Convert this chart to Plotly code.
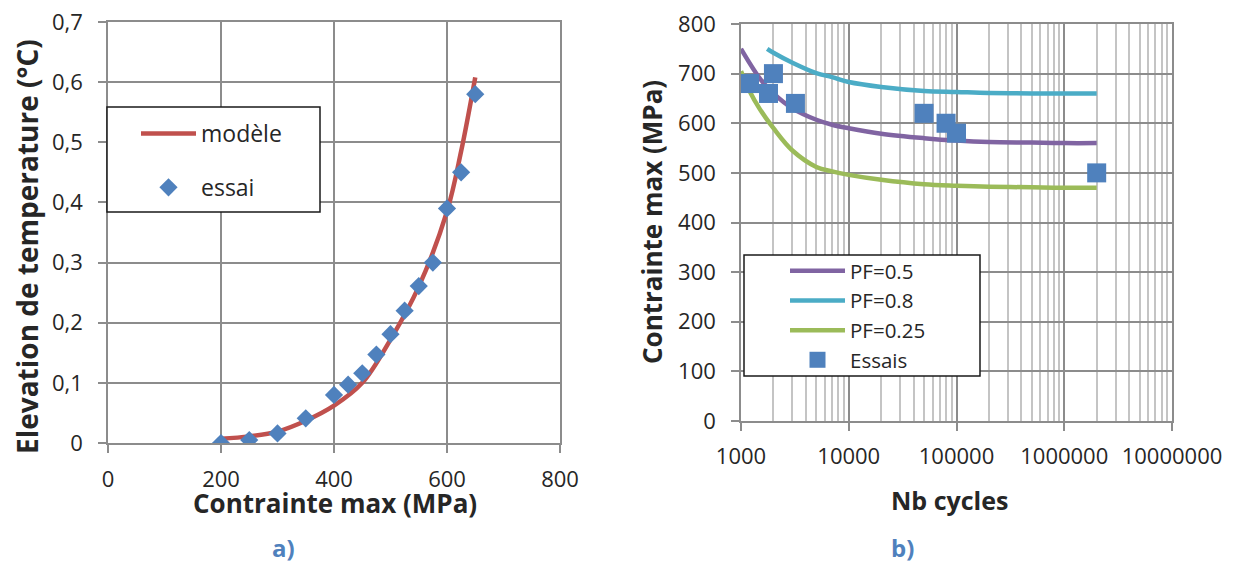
import plotly.graph_objects as go

W, H = 1237, 562
OFF = 8  # page body margin

# ---------- data : chart a) ----------
essai_x = [200, 250, 300, 350, 400, 425, 450, 475, 500, 525, 550, 575, 600, 625, 650]
essai_y = [0.0, 0.005, 0.016, 0.041, 0.08, 0.097, 0.116, 0.147, 0.181, 0.22, 0.261, 0.30, 0.39, 0.45, 0.58]
modele_x = [200, 250, 300, 350, 400, 450, 500, 550, 600, 625, 650]
modele_y = [0.007, 0.011, 0.019, 0.037, 0.062, 0.10, 0.172, 0.26, 0.385, 0.485, 0.608]

# ---------- data : chart b) ----------
pf05_n = [1000, 1500, 2000, 3000, 5000, 7000, 10000, 20000, 50000, 100000, 200000, 500000, 1000000, 2000000]
pf05_s = [750, 690, 660, 630, 607, 597, 590, 579, 570, 565, 562, 561, 560, 560]
pf08_n = [1750, 2000, 3000, 5000, 7000, 10000, 20000, 50000, 100000, 200000, 500000, 1000000, 2000000]
pf08_s = [750, 742, 722, 701, 693, 683, 673, 665, 663, 661, 660, 660, 660]
pf025_n = [1000, 1200, 1500, 2000, 3000, 5000, 7000, 10000, 20000, 50000, 100000, 200000, 500000, 1000000, 2000000]
pf025_s = [705, 665, 628, 590, 545, 512, 503, 496, 486, 477, 474, 472, 471, 470, 470]
essais_n = [1200, 2000, 1800, 3200, 50000, 80000, 100000, 2000000]
essais_s = [680, 700, 660, 640, 620, 600, 580, 500]

xa_ticks = [0, 200, 400, 600, 800]
ya_ticks = [0, 0.1, 0.2, 0.3, 0.4, 0.5, 0.6, 0.7]
yb_ticks = [0, 100, 200, 300, 400, 500, 600, 700, 800]
xb_ticks = [1000, 10000, 100000, 1000000, 10000000]
xb_ticktext = ["1000", "10000", "100000", "1000000", "10000000"]
xb_minor = [m * d for d in [1000, 10000, 100000, 1000000] for m in range(2, 10)]

RED = "#C0504D"
BLUE = "#4F81BD"
PURPLE = "#8064A2"
CYAN = "#4BACC6"
GREEN = "#9BBB59"
TXT = "#262626"
GRID = "#8C8C8C"
FONT = "Open Sans"

fig = go.Figure()

fig.add_trace(go.Scatter(x=modele_x, y=modele_y, mode="lines", name="modèle",
                         line=dict(color=RED, width=4.5, shape="spline"),
                         xaxis="x", yaxis="y", legend="legend", legendgroup="a1"))
fig.add_trace(go.Scatter(x=essai_x, y=essai_y, mode="markers", name="essai",
                         marker=dict(symbol="diamond", size=14, color=BLUE),
                         xaxis="x", yaxis="y", legend="legend", legendgroup="a2"))

fig.add_trace(go.Scatter(x=pf05_n, y=pf05_s, mode="lines", name="PF=0.5",
                         line=dict(color=PURPLE, width=4.5, shape="spline"),
                         xaxis="x2", yaxis="y2", legend="legend2"))
fig.add_trace(go.Scatter(x=pf08_n, y=pf08_s, mode="lines", name="PF=0.8",
                         line=dict(color=CYAN, width=4.5, shape="spline"),
                         xaxis="x2", yaxis="y2", legend="legend2"))
fig.add_trace(go.Scatter(x=pf025_n, y=pf025_s, mode="lines", name="PF=0.25",
                         line=dict(color=GREEN, width=4.5, shape="spline"),
                         xaxis="x2", yaxis="y2", legend="legend2"))
fig.add_trace(go.Scatter(x=essais_n, y=essais_s, mode="markers", name="Essais",
                         marker=dict(symbol="square", size=19, color=BLUE),
                         xaxis="x2", yaxis="y2", legend="legend2"))


def px_x(p):
    return (p - OFF) / W


def px_y(p):
    return 1 - (p - OFF) / H


tickfont = dict(family=FONT, size=22, color=TXT)
axis_common = dict(showline=True, mirror=True, linecolor=GRID, linewidth=1.5,
                   ticks="outside", ticklen=8, tickcolor=GRID, tickwidth=1.5,
                   tickfont=tickfont, ticklabeloverflow="allow",
                   showgrid=True, gridcolor=GRID, gridwidth=1.5, zeroline=False,
                   automargin=False, fixedrange=True)

fig.update_layout(
    width=W, height=H, margin=dict(l=0, r=0, t=0, b=0),
    paper_bgcolor="white", plot_bgcolor="white",
    separators=", ",
    font=dict(family=FONT, color=TXT),
    xaxis=dict(domain=[px_x(108), px_x(560)], range=[0, 800], tickvals=xa_ticks,
               anchor="y", ticklabelstandoff=8, **axis_common),
    yaxis=dict(domain=[px_y(443), px_y(22)], range=[0, 0.7], tickvals=ya_ticks,
               anchor="x", ticklabelstandoff=11, **axis_common),
    xaxis2=dict(domain=[px_x(741), px_x(1172)], type="log", range=[3, 7],
                tickvals=xb_ticks, ticktext=xb_ticktext, anchor="y2", ticklabelstandoff=7,
                minor=dict(tickvals=xb_minor, showgrid=True, gridcolor="#C4C4C4",
                           gridwidth=1.5, ticks=""),
                **axis_common),
    yaxis2=dict(domain=[px_y(421), px_y(24)], range=[0, 800], tickvals=yb_ticks,
                anchor="x2", ticklabelstandoff=11, **axis_common),
    legend=dict(x=px_x(136), y=px_y(112), xanchor="left", yanchor="top",
                bgcolor="rgba(0,0,0,0)", borderwidth=0, itemwidth=55,
                traceorder="grouped", tracegroupgap=21,
                font=dict(family=FONT, size=23, color=TXT)),
    legend2=dict(x=px_x(785), y=px_y(251), xanchor="left", yanchor="top",
                 bgcolor="rgba(0,0,0,0)", borderwidth=0, itemwidth=55,
                 tracegroupgap=0,
                 font=dict(family=FONT, size=20.5, color=TXT)),
    showlegend=True,
)

# legend frames
fig.add_shape(type="rect", xref="paper", yref="paper",
              x0=px_x(107), x1=px_x(320), y0=px_y(212), y1=px_y(107),
              line=dict(color="#1A1A1A", width=1.5), fillcolor="white", layer="above")
fig.add_shape(type="rect", xref="paper", yref="paper",
              x0=px_x(744), x1=px_x(980), y0=px_y(376), y1=px_y(255),
              line=dict(color="#1A1A1A", width=1.5), fillcolor="white", layer="above")


def label(text, x, y, font, angle=0):
    fig.add_annotation(text=text, textangle=angle, x=px_x(x), y=px_y(y),
                       xref="paper", yref="paper", xanchor="center", yanchor="middle",
                       showarrow=False, font=font)


def tfont(size):
    return dict(family=FONT, size=size, color=TXT, weight="bold")


label("Elevation de temperature (°C)", 27, 247, tfont(28), -90)
label("Contrainte max (MPa)", 335, 503, tfont(26))
label("Contrainte max (MPa)", 652, 222, tfont(26), -90)
label("Nb cycles", 949, 500, tfont(25))
labfont = dict(family=FONT, size=24, color=BLUE, weight="bold")
label("a)", 283, 547, labfont)
label("b)", 902, 547, labfont)

fig.write_html("out.html")
